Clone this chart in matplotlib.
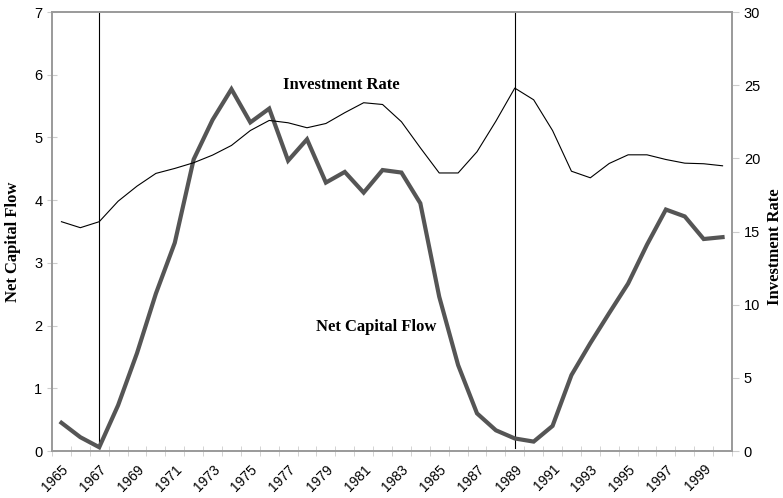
import matplotlib.pyplot as plt
import matplotlib.transforms as mtransforms
import numpy as np

years = list(range(1965, 2001))
net_capital_flow = [0.45, 0.22, 0.06, 0.73, 1.56, 2.51, 3.32, 4.65, 5.28, 5.77,
                    5.24, 5.46, 4.63, 4.97, 4.28, 4.45, 4.12, 4.48, 4.44, 3.95,
                    2.46, 1.37, 0.60, 0.33, 0.20, 0.15, 0.40, 1.21, 1.72, 2.20,
                    2.67, 3.29, 3.85, 3.74, 3.38, 3.41]
investment_rate = [15.67, 15.26, 15.67, 17.07, 18.10, 18.97, 19.31, 19.70, 20.22, 20.88,
                   21.90, 22.59, 22.43, 22.09, 22.38, 23.12, 23.80, 23.68, 22.50, 20.72,
                   19.00, 19.00, 20.45, 22.54, 24.80, 24.00, 21.90, 19.12, 18.67, 19.65,
                   20.24, 20.24, 19.92, 19.67, 19.63, 19.49]
marked_years = [1967, 1989]

serif = ['Liberation Serif', 'DejaVu Serif']
sans = ['Liberation Sans', 'DejaVu Sans']
grey = '#9a9a9a'

fig = plt.figure(figsize=(7.83, 4.98), dpi=100)
ax = fig.add_axes([52 / 783, 47 / 498, 680 / 783, 439 / 498])
ax2 = ax.twinx()

x = np.arange(len(years))
ax.plot(x, net_capital_flow, color='#555555', lw=3.0, solid_joinstyle='miter', zorder=3)
ax2.plot(x, investment_rate, color='black', lw=0.8, zorder=3)

for yr in marked_years:
    ax.axvline(years.index(yr), ymin=0.006, ymax=1, color='black', lw=0.8)

ax.set_xlim(-0.5, len(years) - 0.5)
ax.set_ylim(0, 7)
ax2.set_ylim(0, 30)

ax.set_xticks(x[::2])
ax.set_xticklabels([str(y) for y in years[::2]], rotation=45, ha='right', va='top',
                   rotation_mode='anchor', family=sans, fontsize=10)
shift = mtransforms.ScaledTranslation(-6 / 100, 0, fig.dpi_scale_trans)
for lab in ax.get_xticklabels():
    lab.set_transform(lab.get_transform() + shift)
ax.set_xticks(np.arange(-0.5, len(years)), minor=True)
ax.tick_params(axis='x', which='major', length=0, pad=8)
ax.tick_params(axis='x', which='minor', length=7, direction='inout', color='#cccccc')

ax.set_yticks(range(0, 8))
ax.tick_params(axis='y', length=7, direction='inout', color='#cccccc', labelsize=10.5)
for lab in ax.get_yticklabels():
    lab.set_family(sans)
ax2.set_yticks(range(0, 31, 5))
ax2.tick_params(axis='y', length=5, direction='out', color='#cccccc', labelsize=10.5)
for lab in ax2.get_yticklabels():
    lab.set_family(sans)

for a in (ax, ax2):
    for s in a.spines.values():
        s.set_color(grey)
        s.set_linewidth(1.2)

ax.set_ylabel('Net Capital Flow', family=serif, fontweight='bold', fontsize=12)
ax.yaxis.set_label_coords(-0.046, 0.476)
ax2.set_ylabel('Investment Rate', family=serif, fontweight='bold', fontsize=12)
ax2.yaxis.set_label_coords(1.051, 0.465)

ax.text(14.8, 5.84, 'Investment Rate', family=serif, fontweight='bold',
        fontsize=12, ha='center', va='center')
ax.text(16.65, 1.98, 'Net Capital Flow', family=serif, fontweight='bold',
        fontsize=12, ha='center', va='center')

fig.savefig('out.png', dpi=100)
